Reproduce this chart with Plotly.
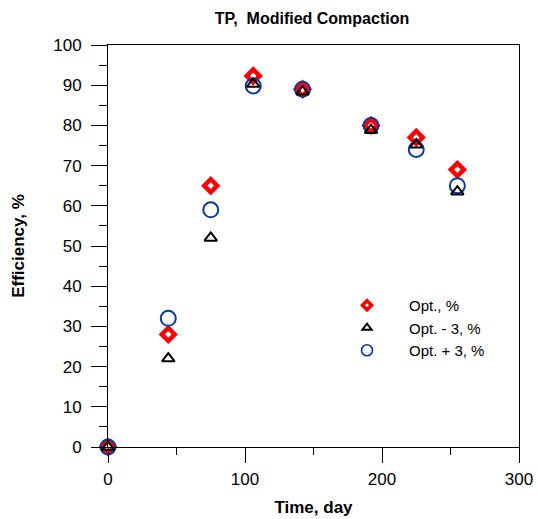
import plotly.graph_objects as go

# time, day
days = [0, 44, 75, 106, 142, 192, 225, 255]

# efficiency, %
opt = [0, 28, 65, 92.3, 89, 80, 77, 69]
opt_minus3 = [0, 22, 52, 90.3, 88.4, 78.8, 75.2, 63.5]
opt_plus3 = [0, 32, 59, 89.8, 89, 80, 74, 65]

series = [
    # name, values, symbol, colour, size, line width, legend size, legend line width
    ("Opt., %", opt, "diamond-open", "#ff0000", 10, 4.5, 7, 3.5),
    ("Opt. + 3, %", opt_plus3, "circle-open", "#0a3aa0", 15, 2, 11, 1.6),
    ("Opt. - 3, %", opt_minus3, "triangle-up-open", "black", 11, 2, 8, 2),
]
legend_rank = {"Opt., %": 1, "Opt. - 3, %": 2, "Opt. + 3, %": 3}

fig = go.Figure()
for name, vals, sym, col, size, lw, lsize, llw in series:
    fig.add_trace(go.Scatter(
        x=days, y=vals, mode="markers", name=name, cliponaxis=False, showlegend=False,
        marker=dict(symbol=sym, size=size, color=col, line=dict(width=lw)),
    ))
    # smaller symbols for the legend only
    fig.add_trace(go.Scatter(
        x=[None], y=[None], mode="markers", name=name, legendrank=legend_rank[name],
        marker=dict(symbol=sym, size=lsize, color=col, line=dict(width=llw)),
    ))

axis_font = dict(family="Liberation Sans, Arial", size=17, color="black")
fig.update_layout(
    width=538, height=519,
    margin=dict(l=108, r=19, t=45, b=72, autoexpand=False),
    plot_bgcolor="white", paper_bgcolor="white",
    title=dict(text="<b>TP,  Modified Compaction</b>", x=0.58, xanchor="center",
               y=0.965, yanchor="middle",
               font=dict(family="Liberation Sans, Arial", size=16, color="black")),
    legend=dict(x=0.528, y=0.393, xanchor="left", yanchor="top", traceorder="normal",
                bgcolor="rgba(0,0,0,0)", tracegroupgap=0, itemwidth=74,
                font=dict(family="Liberation Sans, Arial", size=15, color="black")),
    showlegend=True,
)
fig.update_xaxes(
    range=[0, 300], dtick=100, showgrid=False, zeroline=False, automargin=False,
    showline=True, linecolor="black", linewidth=1, mirror=True,
    ticks="outside", ticklen=15, tickcolor="black", ticklabelstandoff=2,
    minor=dict(dtick=50, ticks="outside", ticklen=7, tickcolor="black"),
    tickfont=axis_font,
    title=dict(text="<b>Time, day</b>", font=axis_font, standoff=12),
)
fig.update_yaxes(
    range=[0, 100], dtick=10, showgrid=False, zeroline=False, automargin=False,
    showline=True, linecolor="black", linewidth=1, mirror=True,
    ticks="outside", ticklen=16, tickcolor="black", ticklabelstandoff=6,
    minor=dict(dtick=5, ticks="outside", ticklen=8, tickcolor="black"),
    tickfont=axis_font,
    title=dict(text="<b>Efficiency, %</b>", font=axis_font, standoff=24),
)

# drop the default 8px body margin so the figure fills the window
fig.write_html("out.html", config={"displayModeBar": False},
               post_script="document.body.style.margin='0';")
